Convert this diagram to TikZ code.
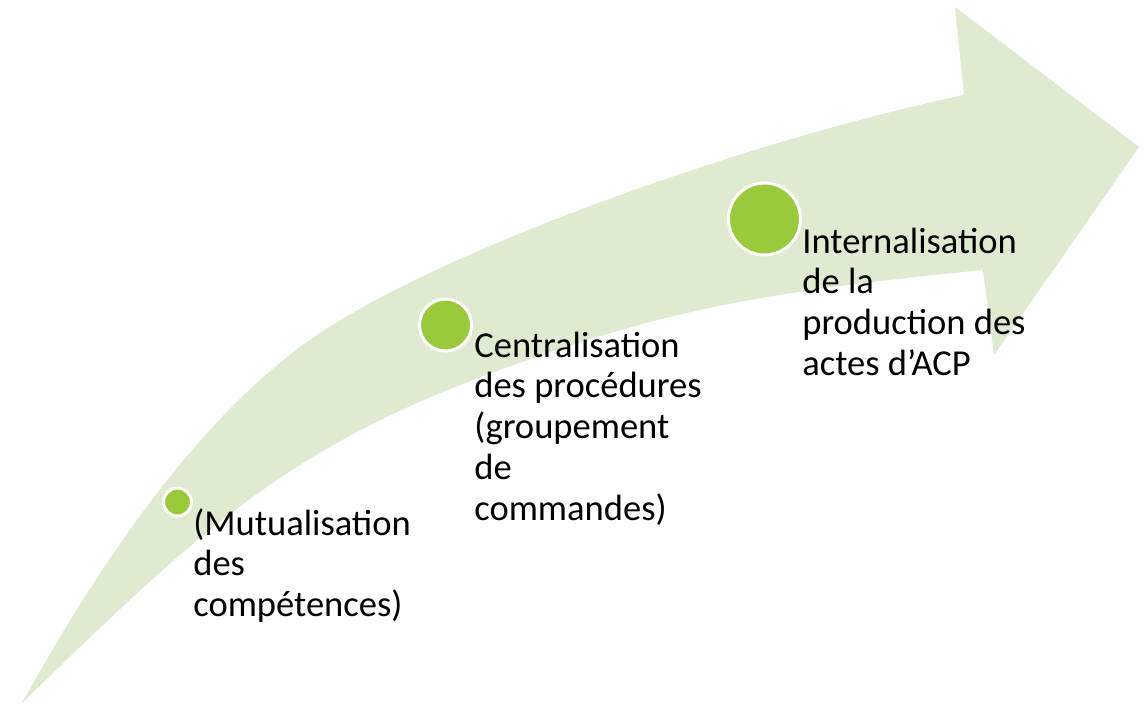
\documentclass[tikz,border=0pt]{standalone}
\usepackage{fontspec}
\setmainfont{Carlito}
\usepackage{tikz}
\usetikzlibrary{positioning}
\definecolor{bandgreen}{RGB}{222,235,208}
\definecolor{dotgreen}{RGB}{154,202,60}

\begin{document}
\begin{tikzpicture}[
          x=0.02cm, y=-0.02cm, % 按像素坐标作图
          dot/.style={circle, fill=dotgreen, draw=white, line width=1.7pt, inner sep=0pt},
          lbl/.style={anchor=base west, inner sep=0pt, text width=5cm, align=flush left,
                      font=\fontsize{20.8}{23.3}\selectfont}
      ]
        \useasboundingbox (0,0) rectangle (1147,704);
        % 弯曲的箭头
        \fill[bandgreen] (22,703)
          .. controls (104.5,554.4) and (196,425) .. (300,347)
          .. controls (420,257) and (739,142.6) .. (964,95)
          -- (955,7) -- (1139,147) -- (994,355) -- (983,270)
          .. controls (763,292) and (660,309) .. (473,380)
          .. controls (277,455) and (188,542) .. (22,703)
          -- cycle;
        % 三个圆点
        \node[dot, minimum size=0.56cm] (c1) at (177.5,502) {};
        \node[dot, minimum size=1.04cm] (c2) at (445.5,325) {};
        \node[dot, minimum size=1.44cm] (c3) at (764.5,219) {};
        % 文字
        \node[lbl] (t1) at (193,535) {(Mutualisation\\des\\compétences)};
        \node[lbl] (t2) at (474,357) {Centralisation\\des procédures\\(groupement\\de\\commandes)};
        \node[lbl] (t3) at (802,253) {Internalisation\\de la\\production des\\actes d’ACP};
      \end{tikzpicture}
\end{document}
